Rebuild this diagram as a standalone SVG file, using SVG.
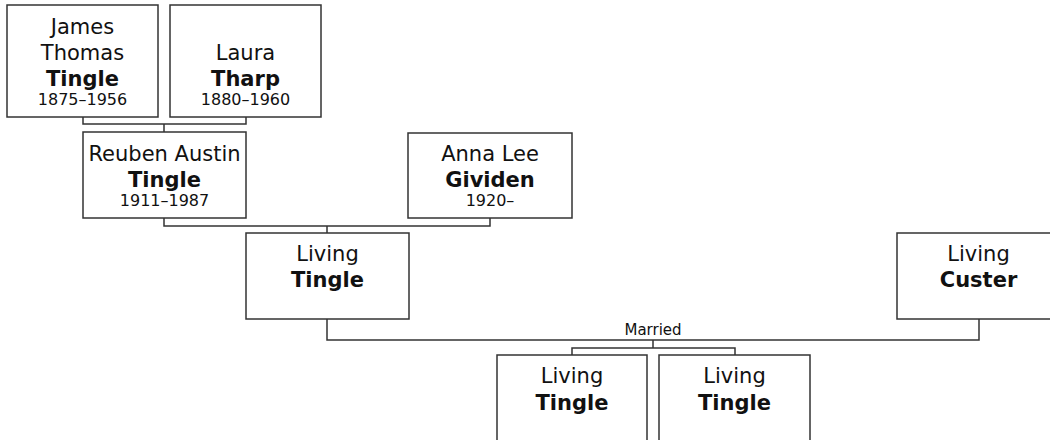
<svg xmlns="http://www.w3.org/2000/svg" width="1050" height="440" viewBox="0 0 1050 440">
<style>
.box{fill:#fff;stroke:#333;stroke-width:1.5}
.ln{fill:none;stroke:#333;stroke-width:1.5}
text{font-family:"DejaVu Sans","Liberation Sans",sans-serif;text-anchor:middle;fill:#111}
.n{font-size:21px}
.b{font-size:21px;font-weight:bold}
.d{font-size:16px}
.m{font-size:15px}
</style>
<rect width="1050" height="440" fill="#fff"/>
<g id="connectors">
<path class="ln" d="M83,117 V124 H246 V117 M164,124 V132"/>
<path class="ln" d="M164,218 V226 H490 V218 M327,226 V233"/>
<path class="ln" d="M327,319 V340 H979 V319"/>
<path class="ln" d="M653,340 V348 M572,355 V348 H735 V355"/>
<text class="m" x="653" y="335">Married</text>
</g>
<g id="james">
<rect class="box" x="7" y="5" width="151" height="112"/>
<text class="n" x="82.5" y="34">James</text>
<text class="n" x="82.5" y="60">Thomas</text>
<text class="b" x="82.5" y="86">Tingle</text>
<text class="d" x="82.5" y="105">1875–1956</text>
</g>
<g id="laura">
<rect class="box" x="170" y="5" width="151" height="112"/>
<text class="n" x="245.5" y="60">Laura</text>
<text class="b" x="245.5" y="86">Tharp</text>
<text class="d" x="245.5" y="105">1880–1960</text>
</g>
<g id="reuben">
<rect class="box" x="83" y="132" width="163" height="86"/>
<text class="n" x="164.5" y="161">Reuben Austin</text>
<text class="b" x="164.5" y="187">Tingle</text>
<text class="d" x="164.5" y="206">1911–1987</text>
</g>
<g id="anna">
<rect class="box" x="408" y="133" width="164" height="85"/>
<text class="n" x="490" y="161">Anna Lee</text>
<text class="b" x="490" y="187">Gividen</text>
<text class="d" x="490" y="206">1920–</text>
</g>
<g id="living-tingle">
<rect class="box" x="246" y="233" width="163" height="86"/>
<text class="n" x="327.5" y="261">Living</text>
<text class="b" x="327.5" y="287">Tingle</text>
</g>
<g id="living-custer">
<rect class="box" x="897" y="233" width="163" height="86"/>
<text class="n" x="978.5" y="261">Living</text>
<text class="b" x="978.5" y="287">Custer</text>
</g>
<g id="child1">
<rect class="box" x="497" y="355" width="150" height="100"/>
<text class="n" x="572" y="383">Living</text>
<text class="b" x="572" y="410">Tingle</text>
</g>
<g id="child2">
<rect class="box" x="659" y="355" width="151" height="100"/>
<text class="n" x="734.5" y="383">Living</text>
<text class="b" x="734.5" y="410">Tingle</text>
</g>
</svg>
